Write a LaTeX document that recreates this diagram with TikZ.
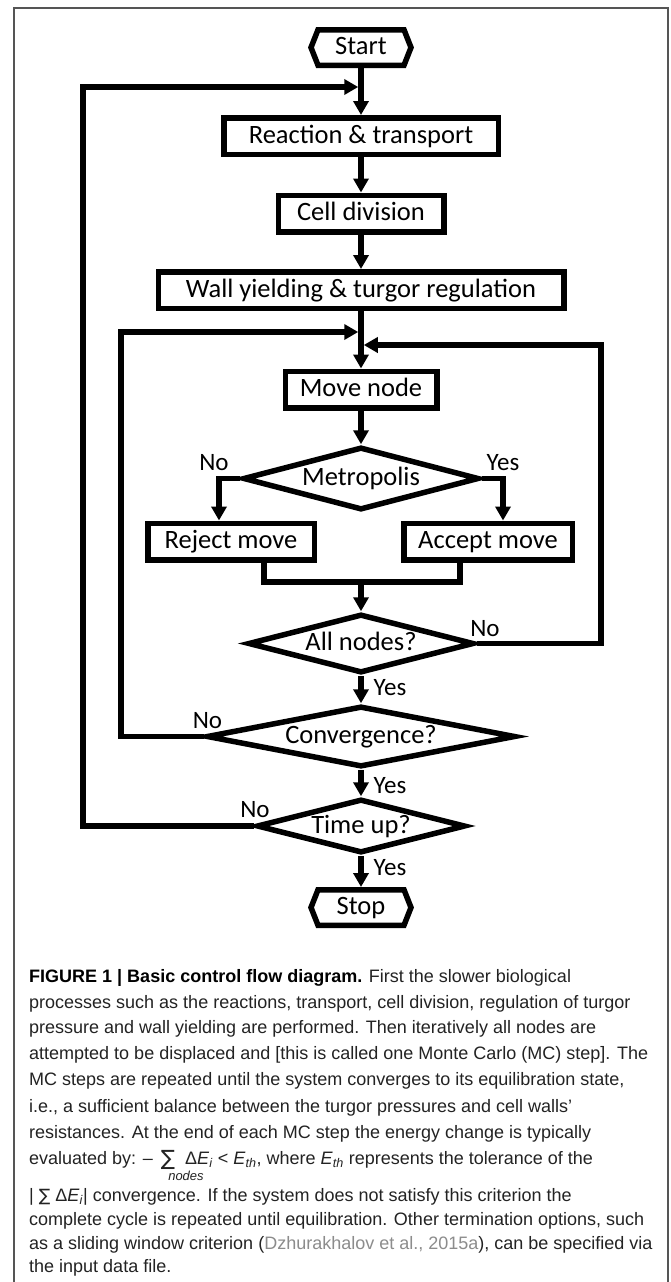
\documentclass[tikz,border=0pt]{standalone}
\usepackage{fontspec}
\setmainfont{Liberation Sans}
\newfontfamily\flowfont{Carlito}
\newfontfamily\symfnt{DejaVu Sans}
\usetikzlibrary{arrows.meta,shapes.geometric,calc}
\definecolor{captxt}{RGB}{35,35,35}
\definecolor{citegray}{RGB}{140,140,140}
\definecolor{framegray}{RGB}{85,85,85}
\newcommand\dtext[1]{\smash{\makebox[0pt]{\raisebox{-7pt}{#1}}}}
\begin{document}
\begin{tikzpicture}[x=1pt,y=-1pt,
  flow/.style={font=\flowfont\fontsize{26.5}{30}\selectfont},
  box/.style={flow, draw, rectangle, line width=5.5pt, minimum height=36.5pt, inner sep=0pt, text height=18pt, text depth=4pt},
  dec/.style={flow, draw, diamond, line width=5.5pt, inner sep=0pt},
  term/.style={flow, rectangle, minimum width=86pt, minimum height=35.5pt, inner sep=0pt, outer sep=2.75pt, text height=18pt, text depth=4pt},
  hexline/.style={line width=5.5pt},
  conn/.style={line width=5.5pt, -{Triangle[length=14pt,width=15pt]}},
  plainline/.style={line width=5.5pt},
  lab/.style={font=\flowfont\fontsize{25}{28}\selectfont, inner sep=0pt},
  captext/.style={anchor=base west, inner sep=0pt, text=captxt, font=\fontsize{18}{22}\selectfont},
  framel/.style={draw=framegray, line width=1.3pt}
]
\useasboundingbox (0,0) rectangle (670,1282);
\fill[white] (0,0) rectangle (670,1282);
\draw[framel] (14,1282) -- (14,8) -- (668,8) -- (668,1282);

% terminals
\node[term] (start) at (361,47.5) {Start};
\draw[hexline] ($(start.center)+(-43,-17.75)$) -- ($(start.center)+(43,-17.75)$) -- ($(start.center)+(50,0)$) -- ($(start.center)+(43,17.75)$) -- ($(start.center)+(-43,17.75)$) -- ($(start.center)+(-50,0)$) -- cycle;
\node[term] (stop) at (361,907.5) {Stop};
\draw[hexline] ($(stop.center)+(-43,-17.75)$) -- ($(stop.center)+(43,-17.75)$) -- ($(stop.center)+(50,0)$) -- ($(stop.center)+(43,17.75)$) -- ($(stop.center)+(-43,17.75)$) -- ($(stop.center)+(-50,0)$) -- cycle;

% boxes
\node[box, minimum width=274.5pt] (react) at (361,136) {Reaction \& transport};
\node[box, minimum width=165.5pt] (cell) at (361,213.5) {Cell division};
\node[box, minimum width=405.5pt] (wall) at (361,290) {Wall yielding \& turgor regulation};
\node[box, minimum width=151.5pt] (move) at (361,389.5) {Move node};
\node[box, minimum width=166.5pt] (reject) at (231,541.5) {Reject move};
\node[box, minimum width=168.5pt] (accept) at (488,541.5) {Accept move};

% decisions
\node[dec, minimum width=236pt, minimum height=63pt] (metro) at (361,478.5) {\dtext{Metropolis}};
\node[dec, minimum width=226pt, minimum height=59pt] (alln) at (361,643.5) {\dtext{All nodes?}};
\node[dec, minimum width=309pt, minimum height=61pt] (conv) at (361,736.5) {\dtext{Convergence?}};
\node[dec, minimum width=209pt, minimum height=54pt] (timeup) at (361,826) {\dtext{Time up?}};

% helper coordinates
\coordinate (L1) at (83,0);
\coordinate (L2) at (121,0);
\coordinate (R1) at (601,0);
\coordinate (BL) at (219,0);
\coordinate (BR) at (503,0);
\coordinate (ML) at (264,0);
\coordinate (MR) at (460,0);
\coordinate (mg) at (361,582);
\coordinate (j1) at (358.25,87);
\coordinate (j2) at (358.25,332);
\coordinate (j3) at (363.75,345);

% main flow
\draw[conn] (start.south) -- (react.north);
\draw[conn] (react.south) -- (cell.north);
\draw[conn] (cell.south) -- (wall.north);
\draw[conn] (wall.south) -- (move.north);
\draw[conn] (move.south) -- (metro.north);
\draw[conn] (metro.west) -- (metro.west -| BL) -- (reject.north -| BL);
\draw[conn] (metro.east) -- (metro.east -| BR) -- (accept.north -| BR);
\draw[plainline] (reject.south -| ML) -- (ML |- mg) -- (MR |- mg) -- (accept.south -| MR);
\draw[conn] (mg) -- (alln.north);
\draw[conn] (alln.south) -- (conv.north);
\draw[conn] (conv.south) -- (timeup.north);
\draw[conn] (timeup.south) -- (stop.north);

% loops
\draw[conn] (alln.east) -- (alln.east -| R1) -- (R1 |- j3) -- (j3);
\draw[conn] (conv.west) -- (conv.west -| L2) -- (L2 |- j2) -- (j2);
\draw[conn] (timeup.west) -- (timeup.west -| L1) -- (L1 |- j1) -- (j1);

% labels
\node[lab] (lno1) at (214,463) {No};
\node[lab] (lyes1) at (503,463) {Yes};
\node[lab] (lno2) at (485,629) {No};
\node[lab] (lyes2) at (390,688) {Yes};
\node[lab] (lno3) at (207.5,721) {No};
\node[lab] (lyes3) at (390,786) {Yes};
\node[lab] (lno4) at (255,810) {No};
\node[lab] (lyes4) at (390,868) {Yes};

% caption
\node[captext] (c1) at (29,982.5) {\textbf{\color{black}FIGURE 1 | Basic control flow diagram.} First the slower biological};
\node[captext] (c2) at (29,1008.5) {processes such as the reactions, transport, cell division, regulation of turgor};
\node[captext] (c3) at (29,1033.5) {pressure and wall yielding are performed. Then iteratively all nodes are};
\node[captext] (c4) at (29,1059.5) {attempted to be displaced and [this is called one Monte Carlo (MC) step]. The};
\node[captext] (c5) at (29,1085.5) {MC steps are repeated until the system converges to its equilibration state,};
\node[captext] (c6) at (29,1112.5) {i.e., a sufficient balance between the turgor pressures and cell walls'};
\node[captext] (c7) at (29,1138.5) {resistances. At the end of each MC step the energy change is typically};
\node[captext] (c8) at (29,1164.5) {evaluated by: \textendash\hspace{8pt}{\symfnt\fontsize{21}{22}\selectfont\raisebox{-1pt}{∑}}\hspace{10pt}Δ\textit{E}\textsubscript{\textit{i}} < \textit{E}\textsubscript{\textit{th}}, where \textit{E}\textsubscript{\textit{th}} represents the tolerance of the};
\node[captext, anchor=center, font=\itshape\fontsize{13}{15}\selectfont] (cnodes) at (186,1176) {nodes};
\node[captext] (c9) at (29,1201.5) {| {\symfnt\fontsize{17}{18}\selectfont ∑} Δ\textit{E}\textsubscript{\textit{i}}| convergence. If the system does not satisfy this criterion the};
\node[captext] (c10) at (29,1225.5) {complete cycle is repeated until equilibration. Other termination options, such};
\node[captext] (c11) at (29,1249.5) {as a sliding window criterion ({\color{citegray}Dzhurakhalov et al., 2015a}), can be specified via};
\node[captext] (c12) at (29,1272.5) {the input data file.};
\end{tikzpicture}
\end{document}
